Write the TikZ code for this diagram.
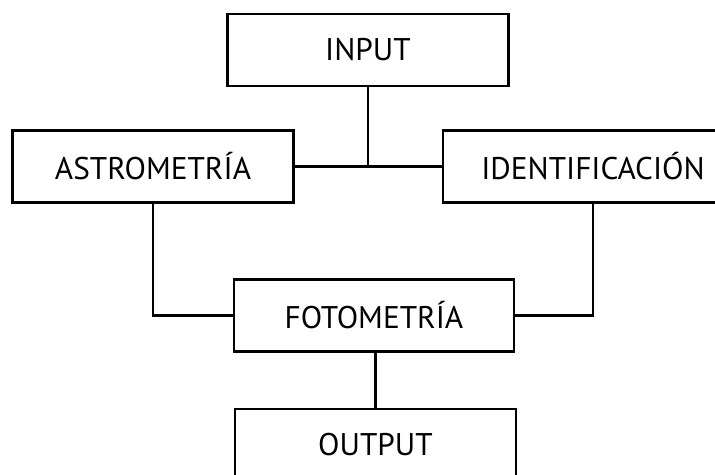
\documentclass[tikz,border=0pt]{standalone}
\usepackage{fontspec}
\setmainfont{PT Sans}
\begin{document}
\begin{tikzpicture}[x=0.75pt,y=-0.75pt,
  stage/.style={draw, line width=1.6pt, rectangle, inner sep=0pt,
    minimum width=281*0.75pt, minimum height=72*0.75pt,
    font=\fontsize{23.5}{28}\selectfont},
  link/.style={line width=1.6pt}]
  \useasboundingbox (0,0) rectangle (715,475);
  \clip (0,0) rectangle (715,475);
  \node[stage] (input) at (368,50) {INPUT};
  \node[stage] (astro) at (153,166.5) {ASTROMETRÍA};
  \node[stage, minimum width=300*0.75pt] (ident) at (593,166.5) {IDENTIFICACIÓN};
  \node[stage, minimum width=280*0.75pt] (foto) at (374,315.5) {FOTOMETRÍA};
  \node[stage] (output) at (375.5,445) {OUTPUT};
  \draw[link] (astro.east) -- (ident.west);
  \draw[link] (input.south) -- (input.south |- astro.east);
  \draw[link] (astro.south) |- (foto.west);
  \draw[link] (ident.south) |- (foto.east);
  \draw[link] (foto.south -| output.north) -- (output.north);
\end{tikzpicture}
\end{document}
